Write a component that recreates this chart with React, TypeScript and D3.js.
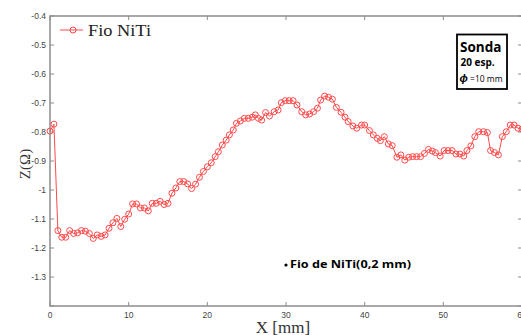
import React, { useEffect, useRef } from "react";
import * as d3 from "d3";

// posição X [mm] de cada medida
const xPos = [
  0, 0.5, 1, 1.5, 2, 2.5, 3, 3.5, 4, 4.5, 5, 5.5, 6, 6.5, 7, 7.5, 8, 8.5, 9, 9.5,
  10, 10.5, 11, 11.5, 12, 12.5, 13, 13.5, 14, 14.5, 15, 15.5, 16, 16.5, 17, 17.5,
  18, 18.5, 19, 19.5, 20, 20.5, 21, 21.4, 21.9, 22.4, 22.8, 23.3, 23.7, 24.2,
  24.7, 25.2, 25.7, 26.1, 26.5, 26.9, 27.4, 27.9, 28.5, 29, 29.4, 29.9, 30.4,
  30.9, 31.4, 32, 32.5, 33, 33.5, 34, 34.4, 34.9, 35.4, 35.9, 36.4, 37, 37.5,
  37.9, 38.5, 39, 39.6, 40, 40.6, 41.1, 41.6, 42, 42.5, 43, 43.5, 44.1, 44.6,
  45.1, 45.6, 46.1, 46.6, 47.1, 47.6, 48.1, 48.6, 49, 49.6, 50.1, 50.6, 51.1,
  51.6, 52.1, 52.6, 53, 53.5, 54, 54.5, 55.1, 55.6, 56, 56.5, 57, 57.5, 58,
  58.5, 59, 59.5, 60,
];

// impedância Z [Ohm]
const zVal = [
  -0.797, -0.773, -1.14, -1.163, -1.163, -1.14, -1.15, -1.148, -1.14, -1.142,
  -1.15, -1.167, -1.155, -1.16, -1.155, -1.132, -1.113, -1.098, -1.126, -1.101,
  -1.083, -1.048, -1.048, -1.062, -1.062, -1.072, -1.046, -1.046, -1.039, -1.05,
  -1.046, -1.011, -0.993, -0.971, -0.971, -0.979, -0.995, -0.98, -0.956, -0.936,
  -0.92, -0.906, -0.885, -0.868, -0.845, -0.828, -0.81, -0.793, -0.77, -0.762,
  -0.753, -0.753, -0.749, -0.741, -0.753, -0.759, -0.733, -0.745, -0.73, -0.724,
  -0.699, -0.692, -0.692, -0.692, -0.707, -0.73, -0.741, -0.738, -0.73, -0.718,
  -0.69, -0.676, -0.68, -0.687, -0.715, -0.732, -0.749, -0.764, -0.779, -0.787,
  -0.776, -0.776, -0.795, -0.81, -0.822, -0.83, -0.816, -0.841, -0.847, -0.887,
  -0.879, -0.897, -0.887, -0.885, -0.885, -0.885, -0.874, -0.86, -0.866, -0.871,
  -0.883, -0.864, -0.864, -0.864, -0.876, -0.876, -0.883, -0.864, -0.848, -0.816,
  -0.799, -0.799, -0.802, -0.864, -0.871, -0.879, -0.816, -0.799, -0.776, -0.776,
  -0.787, -0.79,
];

const xTicks = [0, 10, 20, 30, 40, 50, 60];
const yTicks = [-0.4, -0.5, -0.6, -0.7, -0.8, -0.9, -1, -1.1, -1.2, -1.3, -1.4];
const yTickLabels = ["-0.4", "-0.5", "-0.6", "-0.7", "-0.8", "-0.9", "-1", "-1.1", "-1.2", "-1.3", ""];

const App = () => {
  const ref = useRef<SVGSVGElement>(null);

  useEffect(() => {
    draw();
  });

  let draw = () => {
    const width = 521;
    const height = 335;
    const left = 50;
    const right = 522;
    const top = 16;
    const bottom = 306;
    const red = "#ff4a4a";
    const axisColor = "#8c8c8c";

    let svg = d3.select(ref.current);
    svg.selectAll("*").remove();
    svg.attr("width", width).attr("height", height);

    let x = d3.scaleLinear().domain([0, 60]).range([left, right]);
    let y = d3.scaleLinear().domain([-1.4, -0.4]).range([bottom, top]);

    // caixa do gráfico
    svg
      .append("rect")
      .attr("x", left)
      .attr("y", top)
      .attr("width", right - left)
      .attr("height", bottom - top)
      .attr("fill", "none")
      .attr("stroke", axisColor)
      .attr("stroke-width", 1.5);

    // ticks internos
    let tickG = svg.append("g").attr("stroke", axisColor).attr("stroke-width", 1);
    xTicks.forEach((t) => {
      tickG.append("line").attr("x1", x(t)).attr("x2", x(t)).attr("y1", bottom).attr("y2", bottom - 4);
      tickG.append("line").attr("x1", x(t)).attr("x2", x(t)).attr("y1", top).attr("y2", top + 4);
    });
    yTicks.forEach((t) => {
      tickG.append("line").attr("x1", left).attr("x2", left + 4).attr("y1", y(t)).attr("y2", y(t));
      tickG.append("line").attr("x1", right).attr("x2", right - 4).attr("y1", y(t)).attr("y2", y(t));
    });

    svg
      .append("g")
      .selectAll("text")
      .data(xTicks)
      .enter()
      .append("text")
      .attr("x", (d) => x(d))
      .attr("y", 318)
      .attr("text-anchor", "middle")
      .style("font-family", "Arial, 'Liberation Sans', sans-serif")
      .style("font-size", "8.5px")
      .attr("fill", "#444")
      .text((d) => d);

    svg
      .append("g")
      .selectAll("text")
      .data(yTicks)
      .enter()
      .append("text")
      .attr("x", 46)
      .attr("y", (d) => y(d) + 3)
      .attr("text-anchor", "end")
      .style("font-family", "Arial, 'Liberation Sans', sans-serif")
      .style("font-size", "8.5px")
      .attr("fill", "#444")
      .text((d, i) => yTickLabels[i]);

    // títulos dos eixos
    svg
      .append("text")
      .attr("x", 283)
      .attr("y", 333)
      .attr("text-anchor", "middle")
      .style("font-family", "'Liberation Serif', serif")
      .style("font-size", "17px")
      .attr("fill", "#333")
      .text("X [mm]");

    svg
      .append("text")
      .attr("transform", "translate(30, 164) rotate(-90)")
      .attr("text-anchor", "middle")
      .style("font-family", "'Liberation Serif', serif")
      .style("font-size", "15px")
      .attr("fill", "#333")
      .text("Z(Ω)");

    // série
    let data = xPos.map((d, i) => [d, zVal[i]]);
    let line = d3
      .line()
      .x((d) => x(d[0]))
      .y((d) => y(d[1]));

    let plot = svg.append("g");
    plot
      .append("path")
      .datum(data)
      .attr("d", line)
      .attr("fill", "none")
      .attr("stroke", red)
      .attr("stroke-width", 1);

    plot
      .selectAll("circle")
      .data(data)
      .enter()
      .append("circle")
      .attr("cx", (d) => x(d[0]))
      .attr("cy", (d) => y(d[1]))
      .attr("r", 3)
      .attr("fill", "none")
      .attr("stroke", red)
      .attr("stroke-width", 1);

    // legenda
    svg.append("line").attr("x1", 60).attr("x2", 83).attr("y1", 30).attr("y2", 30).attr("stroke", red);
    svg
      .append("circle")
      .attr("cx", 73)
      .attr("cy", 30)
      .attr("r", 3)
      .attr("fill", "none")
      .attr("stroke", red);
    svg
      .append("text")
      .attr("x", 88)
      .attr("y", 36)
      .style("font-family", "'Liberation Serif', serif")
      .style("font-size", "16px")
      .attr("fill", "#222")
      .attr("textLength", 63)
      .attr("lengthAdjust", "spacingAndGlyphs")
      .text("Fio NiTi");

    // caixa da sonda
    svg
      .append("rect")
      .attr("x", 457)
      .attr("y", 34.5)
      .attr("width", 50)
      .attr("height", 54.5)
      .attr("fill", "#fff")
      .attr("stroke", "#000")
      .attr("stroke-width", 1.8);
    svg
      .append("text")
      .attr("x", 460)
      .attr("y", 51.5)
      .style("font-family", "'Open Sans', sans-serif")
      .style("font-size", "13.5px")
      .style("font-weight", "bold")
      .text("Sonda");
    svg
      .append("text")
      .attr("x", 460.5)
      .attr("y", 66)
      .style("font-family", "'Open Sans', sans-serif")
      .style("font-size", "10px")
      .style("font-weight", "bold")
      .text("20 esp.");
    let phi = svg
      .append("text")
      .attr("x", 459.5)
      .attr("y", 82)
      .style("font-family", "'Open Sans', sans-serif")
      .style("font-size", "8.5px");
    phi.append("tspan").style("font-weight", "bold").style("font-style", "italic").style("font-size", "11px").text("ϕ");
    phi.append("tspan").text(" =10 mm");

    // anotação
    svg
      .append("circle")
      .attr("cx", 286)
      .attr("cy", 265)
      .attr("r", 1.6)
      .attr("fill", "#000");
    svg
      .append("text")
      .attr("x", 290)
      .attr("y", 268)
      .style("font-family", "'Open Sans', sans-serif")
      .style("font-size", "11px")
      .style("font-weight", "bold")
      .attr("textLength", 121)
      .attr("lengthAdjust", "spacingAndGlyphs")
      .text("Fio de NiTi(0,2 mm)");
  };

  return (
    <svg
      ref={ref}
      style={{ position: "fixed", top: 0, left: 0, background: "#fff" }}
    ></svg>
  );
};

export default App;
